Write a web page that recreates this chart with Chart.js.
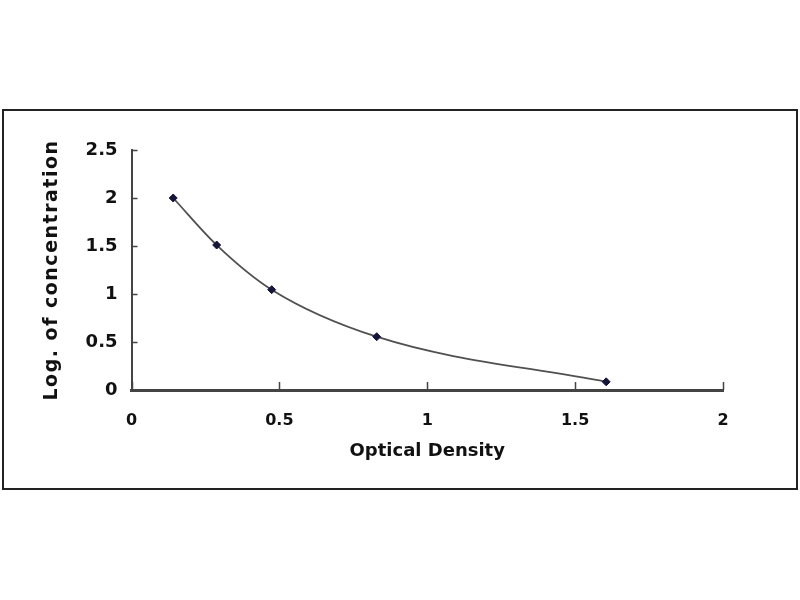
<!DOCTYPE html>
<html>
<head>
<meta charset="utf-8">
<title>Standard curve</title>
<script src="https://cdn.jsdelivr.net/npm/chart.js@4.4.1/dist/chart.umd.min.js"></script>
<style>
  html, body { margin: 0; padding: 0; background: #fff; }
  #wrap { width: 800px; height: 600px; }
</style>
</head>
<body>
<div id="wrap"><canvas id="curve" width="800" height="600"></canvas></div>
<script>
// Standard curve readings
const opticalDensity = [0.141, 0.288, 0.474, 0.829, 1.605];
const logConcentration = [2.0, 1.51, 1.045, 0.555, 0.085];

// Axis ticks
const xTicks = [0, 0.5, 1, 1.5, 2];
const yTicks = [0, 0.5, 1, 1.5, 2, 2.5];

const fontFamily = "'DejaVu Sans', sans-serif";
const axisColor = "#444";

// outer frame + inward tick marks
const frameAndTicks = {
  id: "frameAndTicks",
  beforeDraw(chart) {
    const ctx = chart.ctx;
    ctx.save();
    ctx.fillStyle = "#fff";
    ctx.fillRect(0, 0, chart.width, chart.height);
    ctx.strokeStyle = "#222";
    ctx.lineWidth = 2;
    ctx.strokeRect(3, 110, 794, 379);
    ctx.restore();
  },
  afterDatasetsDraw(chart) {
    const ctx = chart.ctx;
    const { x, y } = chart.scales;
    ctx.save();
    ctx.strokeStyle = axisColor;
    ctx.lineWidth = 1.5;
    ctx.beginPath();
    x.ticks.forEach(t => {
      const px = Math.round(x.getPixelForValue(t.value)) + 0.5;
      ctx.moveTo(px, y.bottom);
      ctx.lineTo(px, y.bottom - 8);
    });
    y.ticks.forEach(t => {
      const py = Math.round(y.getPixelForValue(t.value)) + 0.5;
      ctx.moveTo(x.left, py);
      ctx.lineTo(x.left + 6, py);
    });
    ctx.stroke();
    ctx.restore();
  },
  afterLayout(chart) {
    // spread the letters of the vertical title a bit
    const ys = chart.scales.y;
    if (ys._spaced) return;
    const base = Object.getPrototypeOf(ys).drawTitle;
    ys.drawTitle = function () {
      const ctx = this.ctx;
      ctx.save();
      ctx.letterSpacing = "1.5px";
      base.call(this);
      ctx.restore();
    };
    ys._spaced = true;
  }
};

new Chart(document.getElementById("curve"), {
  type: "scatter",
  data: {
    datasets: [{
      label: "Standard",
      data: opticalDensity.map((v, i) => ({ x: v, y: logConcentration[i] })),
      showLine: true,
      borderColor: "#505050",
      borderWidth: 1.8,
      cubicInterpolationMode: "monotone",
      pointStyle: "rectRot",
      pointRadius: 4,
      pointBackgroundColor: "#15153a",
      pointBorderColor: "#15153a",
      pointBorderWidth: 1
    }]
  },
  options: {
    responsive: false,
    animation: false,
    devicePixelRatio: 1,
    layout: { padding: { left: 0, top: 150, right: 77, bottom: 130 } },
    plugins: { legend: { display: false }, tooltip: { enabled: false } },
    scales: {
      x: {
        type: "linear",
        min: 0,
        max: 2,
        afterBuildTicks: s => { s.ticks = xTicks.map(v => ({ value: v })); },
        afterFit: s => { s.height = 80; },
        grid: { drawOnChartArea: false, drawTicks: false },
        border: { color: axisColor, width: 3 },
        ticks: {
          padding: 21,
          color: "#111",
          callback: v => String(v),
          font: { family: fontFamily, size: 16, weight: "bold" }
        },
        title: {
          display: true,
          text: "Optical Density",
          color: "#111",
          padding: { top: 0, bottom: 8 },
          font: { family: fontFamily, size: 18, weight: "bold" }
        }
      },
      y: {
        min: 0,
        max: 2.5,
        afterBuildTicks: s => { s.ticks = yTicks.map(v => ({ value: v })); },
        afterFit: s => { s.width = 131.5; },
        grid: { drawOnChartArea: false, drawTicks: false },
        border: { color: axisColor, width: 2 },
        ticks: {
          padding: 14,
          color: "#111",
          callback: v => String(v),
          font: { family: fontFamily, size: 18, weight: "bold" }
        },
        title: {
          display: true,
          text: "Log. of concentration",
          color: "#111",
          padding: { top: 41, bottom: 0 },
          font: { family: fontFamily, size: 19, weight: "bold" }
        }
      }
    }
  },
  plugins: [frameAndTicks]
});
</script>
</body>
</html>
